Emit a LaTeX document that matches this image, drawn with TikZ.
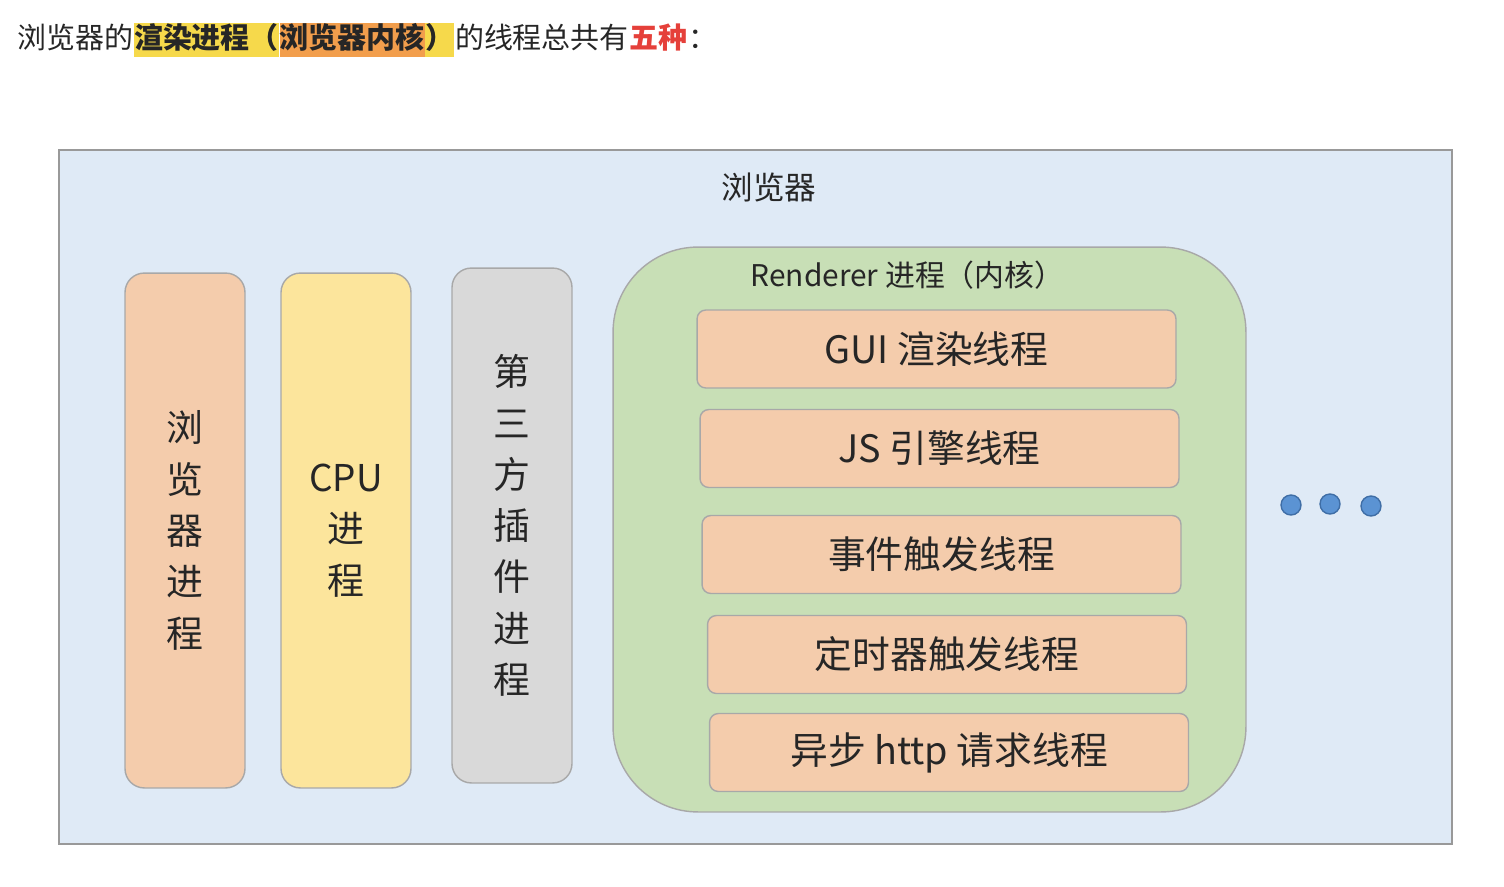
\documentclass[tikz,border=0pt]{standalone}
\usepackage{fontspec}
\setmainfont{Noto Sans CJK SC}
\usetikzlibrary{positioning}
% Couleurs
\definecolor{fondbleu}{HTML}{DFEAF6}
\definecolor{peche}{HTML}{F4CCAC}
\definecolor{jaune}{HTML}{FCE59C}
\definecolor{gris}{HTML}{D9D9D9}
\definecolor{vert}{HTML}{C8DFB6}
\definecolor{bord}{HTML}{A8A8A8}
\definecolor{point}{HTML}{5B93D3}
\definecolor{pointbord}{HTML}{3F6EA6}
\definecolor{surjaune}{HTML}{F6D94B}
\definecolor{surorange}{HTML}{F29E4C}
\definecolor{rouge}{HTML}{E5403A}
\definecolor{texte}{HTML}{262626}
\tikzset{
	colonne/.style={draw=bord,thick,rounded corners=11,align=center,text=texte,
		font=\fontsize{21}{29.2}\selectfont,inner sep=0pt},
	fil/.style={draw=bord,thick,fill=peche,rounded corners=5,minimum width=9.58cm,
		minimum height=1.56cm,text=texte,font=\fontsize{21.5}{24}\selectfont},
	entete/.style={inner xsep=0pt,inner ysep=2pt,text height=12pt,text depth=3pt,
		anchor=base west,font=\fontsize{16.5}{18}\selectfont,text=texte},
	pastille/.style={circle,draw=pointbord,thick,fill=point,minimum size=0.4cm,inner sep=0pt}
}
\begin{document}
\begin{tikzpicture}[x=0.02cm,y=-0.02cm]
	\useasboundingbox (0,0) rectangle (1504,886);
%
% Phrase d'en-tete
	\node[entete] (h1) at (17,48) {浏览器的};
	\node[entete,fill=surjaune,font=\fontsize{16.5}{18}\selectfont\bfseries] (h2) at (h1.base east) {渲染进程（};
	\node[entete,fill=surorange,font=\fontsize{16.5}{18}\selectfont\bfseries] (h3) at (h2.base east) {浏览器内核};
	\node[entete,fill=surjaune,font=\fontsize{16.5}{18}\selectfont\bfseries] (h4) at (h3.base east) {）};
	\node[entete] (h5) at (h4.base east) {的线程总共有};
	\node[entete,text=rouge,font=\fontsize{16.5}{18}\selectfont\bfseries] (h6) at (h5.base east) {五种};
	\node[entete] (h7) at (h6.base east) {：};
%
% Cadre du navigateur
	\node[draw=gray!80,thick,fill=fondbleu,minimum width=27.86cm,minimum height=13.88cm] (nav) at (755.5,497) {};
	\node[text=texte,font=\fontsize{18}{20}\selectfont] (titre) at (769,187) {浏览器};
%
% Les trois processus en colonne
	\node[colonne,fill=peche,minimum width=2.4cm,minimum height=10.3cm] (browser) at (185,530.5) {浏\\览\\器\\进\\程};
	\node[colonne,fill=jaune,minimum width=2.6cm,minimum height=10.3cm] (cpu) at (346,530.5) {CPU\\进\\程};
	\node[colonne,fill=gris,minimum width=2.4cm,minimum height=10.3cm] (plugin) at (512,525.5) {第\\三\\方\\插\\件\\进\\程};
%
% Processus Renderer et ses threads
	\node[draw=bord,thick,fill=vert,rounded corners=1.7cm,minimum width=12.66cm,minimum height=11.3cm] (renderer) at (929.5,529.5) {};
	\node[text=texte,font=\fontsize{17}{20}\selectfont] (rtitre) at (907.5,275) {Renderer 进程（内核）};
	\foreach \n/\x/\y/\lab in {gui/936.5/349/GUI 渲染线程, js/939.5/448.5/JS 引擎线程,
		event/941.5/554.5/事件触发线程, timer/947/654.5/定时器触发线程,
		http/949/752.5/异步 http 请求线程}{
		\node[fil] (\n) at (\x,\y) {\lab};
	};
%
% Points de suspension
	\node[pastille] (p1) at (1291,505) {};
	\node[pastille] (p2) at (1330,504) {};
	\node[pastille] (p3) at (1371,506) {};
\end{tikzpicture}
\end{document}
